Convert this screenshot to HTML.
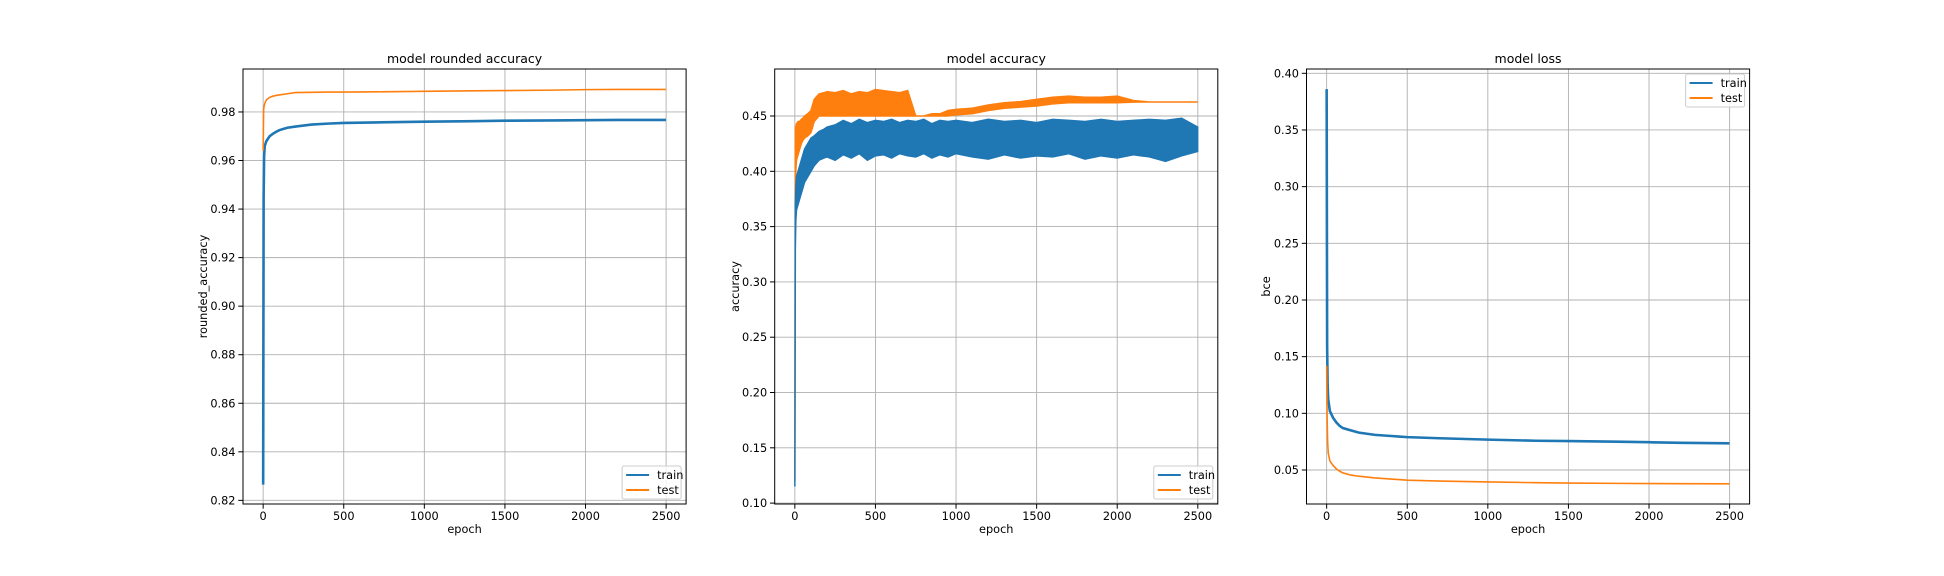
<!DOCTYPE html>
<html><head><meta charset="utf-8">
<style>
html,body{margin:0;padding:0;background:#fff;}
svg{display:block;font-family:"DejaVu Sans","Liberation Sans",sans-serif;}
</style></head>
<body>
<svg id="fig" width="1944" height="576" viewBox="0 0 1944 576"></svg>
<script>
// ---------- chart 1: rounded accuracy ----------
const ep1 = [0,3,6,10,20,40,60,80,100,150,200,300,400,500,700,1000,1300,1500,1800,2000,2200,2499];
const train1 = [0.8265,0.945,0.962,0.966,0.968,0.970,0.971,0.9718,0.9725,0.9735,0.974,0.9748,0.9752,0.9755,0.9757,0.976,0.9762,0.9764,0.9765,0.9766,0.9767,0.9767];
const test1 = [0.964,0.981,0.9825,0.9835,0.985,0.986,0.9865,0.9868,0.987,0.9875,0.988,0.9881,0.9882,0.9882,0.9883,0.9885,0.9887,0.9888,0.989,0.9892,0.9893,0.9893];
const yticks1 = [0.82,0.84,0.86,0.88,0.90,0.92,0.94,0.96,0.98];
// ---------- chart 2: accuracy ----------
const ep2 = [0,3,6,10,20,30,40,50,60,80,100,120,150,180,200,250,300,350,400,450,500,550,600,650,700,750,800,850,900,950,1000,1100,1200,1300,1400,1500,1600,1700,1800,1900,2000,2100,2200,2300,2400,2499];
const train2Lo = [0.115,0.33,0.355,0.365,0.37,0.375,0.38,0.385,0.39,0.395,0.40,0.405,0.41,0.412,0.413,0.41,0.415,0.412,0.416,0.41,0.414,0.415,0.412,0.416,0.414,0.413,0.416,0.412,0.415,0.413,0.416,0.413,0.411,0.415,0.412,0.414,0.413,0.416,0.411,0.414,0.412,0.415,0.413,0.409,0.414,0.418];
const train2Hi = [0.115,0.37,0.385,0.395,0.40,0.405,0.41,0.415,0.42,0.425,0.43,0.432,0.436,0.438,0.44,0.442,0.446,0.443,0.447,0.444,0.446,0.445,0.447,0.444,0.446,0.445,0.447,0.443,0.446,0.445,0.446,0.444,0.447,0.445,0.446,0.444,0.447,0.446,0.445,0.447,0.445,0.446,0.447,0.446,0.448,0.44];
const test2Lo = [0.12,0.38,0.40,0.41,0.415,0.42,0.425,0.428,0.43,0.432,0.435,0.445,0.45,0.45,0.45,0.45,0.45,0.45,0.45,0.45,0.45,0.45,0.45,0.45,0.45,0.45,0.45,0.45,0.45,0.45,0.451,0.452,0.455,0.457,0.458,0.459,0.461,0.462,0.462,0.462,0.462,0.4625,0.4627,0.4627,0.4627,0.4627];
const test2Hi = [0.12,0.44,0.44,0.443,0.445,0.445,0.447,0.448,0.45,0.452,0.455,0.465,0.47,0.471,0.472,0.471,0.473,0.47,0.472,0.471,0.474,0.473,0.472,0.471,0.473,0.45,0.45,0.452,0.452,0.455,0.456,0.457,0.46,0.462,0.463,0.465,0.467,0.468,0.467,0.467,0.468,0.464,0.4627,0.4627,0.4627,0.4627];
const yticks2 = [0.10,0.15,0.20,0.25,0.30,0.35,0.40,0.45];
// ---------- chart 3: loss ----------
const ep3 = [0,3,6,10,20,40,60,80,100,150,200,300,400,500,700,1000,1300,1500,1800,2000,2200,2499];
const train3 = [0.386,0.16,0.125,0.112,0.102,0.096,0.092,0.089,0.087,0.085,0.083,0.081,0.080,0.079,0.078,0.0768,0.0758,0.0755,0.075,0.0745,0.074,0.0735];
const test3 = [0.142,0.095,0.075,0.065,0.058,0.054,0.051,0.049,0.0475,0.0455,0.0445,0.043,0.042,0.041,0.0402,0.0395,0.0388,0.0385,0.0382,0.038,0.0379,0.0378];
const yticks3 = [0.05,0.10,0.15,0.20,0.25,0.30,0.35,0.40];
const xticks = [0,500,1000,1500,2000,2500];

const NS = "http://www.w3.org/2000/svg";
const fig = document.getElementById('fig');
const BLUE = '#1f77b4', ORANGE = '#ff7f0e';
function mk(tag, attrs, parent) {
  const e = document.createElementNS(NS, tag);
  for (const k in attrs) e.setAttribute(k, attrs[k]);
  (parent || fig).appendChild(e);
  return e;
}
function txt(s, attrs, parent) { const t = mk('text', attrs, parent); t.textContent = s; return t; }

function chart(cfg) {
  const g = mk('g', {});
  
  
  const L = cfg.left, R = cfg.left + 443.1, T = 69, B = 504;
  const xs = v => L + (v - (-125)) / (2624 - (-125)) * (R - L);
  const ys = v => B - (v - cfg.ymin) / (cfg.ymax - cfg.ymin) * (B - T);
  // grid + ticks
  xticks.forEach(v => {
    const x = xs(v);
    const gl = mk('line', {x1: x, x2: x, y1: T, y2: B, stroke: '#b0b0b0', 'stroke-width': 0.9}, g);
    
    
    mk('line', {x1: x, x2: x, y1: B, y2: B + 4.7, stroke: '#000', 'stroke-width': 1}, g);
    const t = txt(String(v), {x: x, y: B + 16, 'font-size': 11.3, 'text-anchor': 'middle', fill: '#000'}, g);
    
    
  });
  cfg.yticks.forEach(v => {
    const y = ys(v);
    const gl = mk('line', {x1: L, x2: R, y1: y, y2: y, stroke: '#b0b0b0', 'stroke-width': 0.9}, g);
    
    
    mk('line', {x1: L - 4.7, x2: L, y1: y, y2: y, stroke: '#000', 'stroke-width': 1}, g);
    const t = txt(v.toFixed(2), {x: L - 7.5, y: y + 4, 'font-size': 11.3, 'text-anchor': 'end', fill: '#000'}, g);
    
    
  });
  // clip
  const cp = mk('clipPath', {id: cfg.name + '-clip'}, g);
  mk('rect', {x: L, y: T, width: R - L, height: B - T}, cp);
  const plot = mk('g', {'clip-path': 'url(#' + cfg.name + '-clip)'}, g);
  cfg.series.forEach(s => {
    let el;
    if (s.lo) {
      const pts = s.ep.map((e, i) => xs(e).toFixed(2) + ',' + ys(s.lo[i]).toFixed(2))
        .concat(s.ep.map((e, i) => xs(e).toFixed(2) + ',' + ys(s.hi[i]).toFixed(2)).reverse());
      el = mk('polygon', {points: pts.join(' '), fill: s.color, stroke: s.color, 'stroke-width': 1.5, 'stroke-linejoin': 'miter'}, plot);
    } else {
      const pts = s.ep.map((e, i) => xs(e).toFixed(2) + ',' + ys(s.v[i]).toFixed(2));
      el = mk('polyline', {points: pts.join(' '), fill: 'none', stroke: s.color, 'stroke-width': s.w || 1.5}, plot);
    }
    
    
  });
  // frame
  const fr = mk('rect', {x: L, y: T, width: R - L, height: B - T, fill: 'none', stroke: '#000', 'stroke-width': 1}, g);
  
  
  const ti = txt(cfg.title, {x: (L + R) / 2, y: 63, 'font-size': 12.5, 'text-anchor': 'middle', fill: '#000'}, g);
  
  
  const xl = txt('epoch', {x: (L + R) / 2, y: 533, 'font-size': 11.3, 'text-anchor': 'middle', fill: '#000'}, g);
  
  
  const yx = cfg.ylabelX;
  const yl = txt(cfg.ylabel, {x: yx, y: (T + B) / 2, 'font-size': 11.3, 'text-anchor': 'middle', fill: '#000', transform: 'rotate(-90 ' + yx + ' ' + (T + B) / 2 + ')'}, g);
  
  
  // legend
  const lx = R - 5 - 59, ly = cfg.legendTop ? T + 5 : B - 5 - 33;
  const lg = mk('g', {}, g);
  
  
  mk('rect', {x: lx, y: ly, width: 59, height: 33, rx: 2, fill: '#fff', 'fill-opacity': 0.8, stroke: '#cccccc', 'stroke-width': 1}, lg);
  [['train', BLUE], ['test', ORANGE]].forEach((p, i) => {
    const yy = ly + 9 + i * 15;
    const ent = mk('g', {}, lg);
    
    
    mk('line', {x1: lx + 4, x2: lx + 27, y1: yy, y2: yy, stroke: p[1], 'stroke-width': 2}, ent);
    txt(p[0], {x: lx + 35, y: yy + 4, 'font-size': 11.3, fill: '#000'}, ent);
  });
}

chart({name: 'rounded-accuracy-chart', left: 243, ymin: 0.8185, ymax: 0.9977, yticks: yticks1,
  title: 'model rounded accuracy', ylabel: 'rounded_accuracy', ylabelX: 207, legendTop: false,
  series: [
    {name: 'train-line', ep: ep1, v: train1, color: BLUE, w: 2.6},
    {name: 'test-line', ep: ep1, v: test1, color: ORANGE, w: 1.6}
  ]});
chart({name: 'accuracy-chart', left: 774.7, ymin: 0.0992, ymax: 0.4925, yticks: yticks2,
  title: 'model accuracy', ylabel: 'accuracy', ylabelX: 739, legendTop: false,
  series: [
    {name: 'test-line', ep: ep2, lo: test2Lo, hi: test2Hi, color: ORANGE},
    {name: 'train-line', ep: ep2, lo: train2Lo, hi: train2Hi, color: BLUE}
  ]});
chart({name: 'loss-chart', left: 1306.5, ymin: 0.0200, ymax: 0.4038, yticks: yticks3,
  title: 'model loss', ylabel: 'bce', ylabelX: 1270, legendTop: true,
  series: [
    {name: 'train-line', ep: ep3, v: train3, color: BLUE, w: 2.6},
    {name: 'test-line', ep: ep3, v: test3, color: ORANGE, w: 1.6}
  ]});
</script>
</body></html>
